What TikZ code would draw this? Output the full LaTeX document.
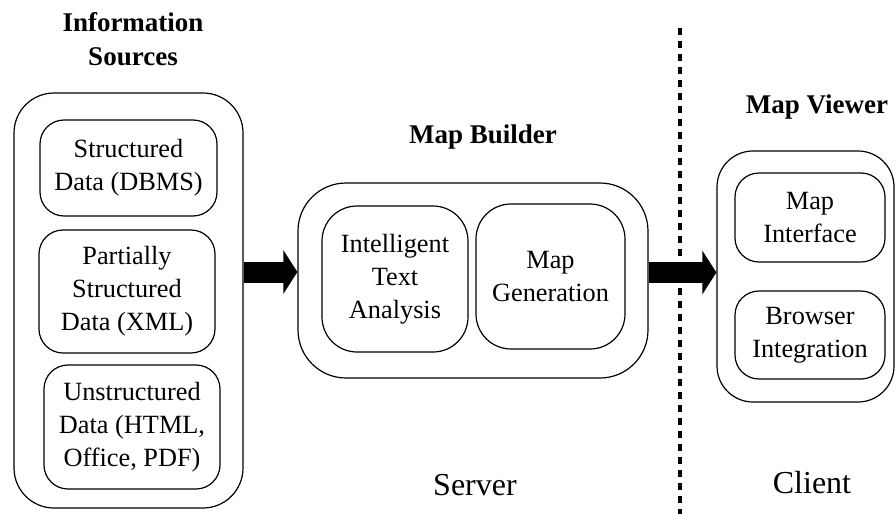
\documentclass[tikz,border=0pt]{standalone}
\usepackage{fontspec}
\setmainfont{LiberationSerif}[Extension=.ttf, UprightFont=*-Regular, BoldFont=*-Bold, ItalicFont=*-Italic, BoldItalicFont=*-BoldItalic]
\usetikzlibrary{arrows.meta}

\tikzset{
  outerbox/.style={draw, line width=1.2pt, inner sep=0pt},
  innerbox/.style={draw, line width=1.2pt, inner sep=0pt, align=center,
    font=\fontsize{26.3}{33}\selectfont},
  grouptitle/.style={font=\fontsize{27}{34}\selectfont\bfseries, align=center, inner sep=0pt},
  sidelabel/.style={font=\fontsize{32}{38}\selectfont, inner sep=0pt},
  fatarrow/.style={line width=21pt, -{Triangle[length=14pt,width=43pt]}},
  divider/.style={line width=4pt, dash pattern=on 7pt off 6pt}
}

\begin{document}
\begin{tikzpicture}[x=1pt,y=-1pt]
\useasboundingbox (0,0) rectangle (896,514);

% Information sources
\node[grouptitle, anchor=base] (srctitle) at (133,65) {Information\\Sources};
\node[outerbox, rounded corners=40pt, minimum width=229pt, minimum height=415pt] (src) at (128.5,300.5) {};
\node[innerbox, rounded corners=24pt, minimum width=177pt, minimum height=96pt] (dbms) at (128.5,168) {Structured\\Data (DBMS)};
\node[innerbox, rounded corners=24pt, minimum width=176pt, minimum height=123pt] (xml) at (127,291.5) {Partially\\Structured\\Data (XML)};
\node[innerbox, rounded corners=24pt, minimum width=176pt, minimum height=124pt] (html) at (132,427) {Unstructured\\Data (HTML,\\Office, PDF)};

% Map builder
\node[grouptitle, anchor=base] (buildtitle) at (483,143) {Map Builder};
\node[outerbox, rounded corners=48pt, minimum width=350pt, minimum height=195pt] (builder) at (473,280.5) {};
\node[innerbox, rounded corners=35pt, minimum width=146pt, minimum height=146pt] (ita) at (395,279) {Intelligent\\Text\\Analysis};
\node[innerbox, rounded corners=35pt, minimum width=149pt, minimum height=145pt] (mapgen) at (550.5,276.5) {Map\\Generation};

% Map viewer
\node[grouptitle, anchor=base] (viewtitle) at (817,113) {Map Viewer};
\node[outerbox, rounded corners=36pt, minimum width=177pt, minimum height=251pt] (viewer) at (805.5,276.5) {};
\node[innerbox, rounded corners=24pt, minimum width=150pt, minimum height=89pt] (mapif) at (810,217.5) {Map\\Interface};
\node[innerbox, rounded corners=24pt, minimum width=150pt, minimum height=88pt] (browser) at (810,335) {Browser\\Integration};

% Flow arrows
\coordinate (flowA) at (0,272);
\coordinate (flowB) at (0,272.5);
\draw[fatarrow] (src.east |- flowA) -- (builder.west |- flowA);
\draw[fatarrow] (builder.east |- flowB) -- (viewer.west |- flowB);

% Server / client divide
\coordinate (divtop) at (680,28);
\coordinate (divbot) at (680,514);
\draw[divider] (divtop) -- (divbot);

\node[sidelabel, anchor=base] (server) at (475,495) {Server};
\node[sidelabel, anchor=base] (client) at (812,493) {Client};
\end{tikzpicture}
\end{document}
